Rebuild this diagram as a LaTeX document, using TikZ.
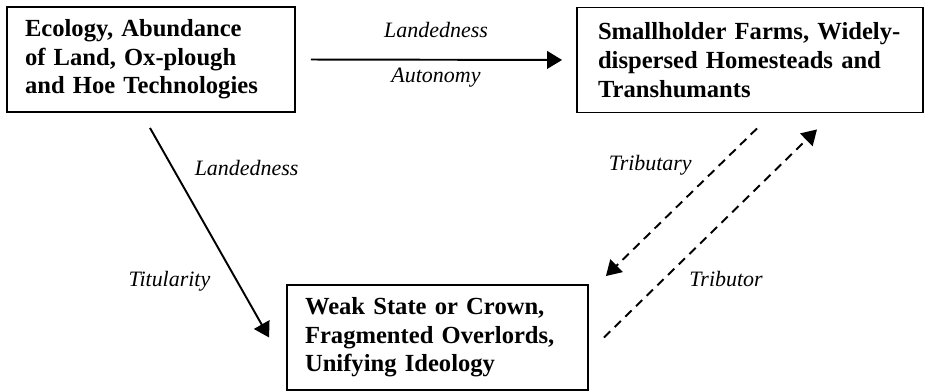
\documentclass[tikz,border=0pt]{standalone}
\usepackage{fontspec}
\setmainfont{Liberation Serif}
\usetikzlibrary{arrows.meta}

\tikzset{
  factor/.style={rectangle, draw, line width=1.1pt, minimum height=2.1cm,
    align=left, font=\bfseries\fontsize{14}{16.3}\selectfont},
  link/.style={line width=1.1pt, -{Triangle[length=8.5pt,width=10pt]}},
  tribute/.style={link, dash pattern=on 5pt off 3.5pt},
  tag/.style={font=\itshape\fontsize{12.5}{14}\selectfont}
}

\begin{document}
\begin{tikzpicture}[x=0.02cm, y=-0.02cm]
    \useasboundingbox (0,0) rectangle (927,391);
    % Nodes
    \node [factor, minimum width=5.76cm, text width=5.04cm] (ecology) at (151,59.5)
        {Ecology, Abundance\\of Land, Ox-plough\\and Hoe Technologies};
    \node [factor, minimum width=6.92cm, text width=6.08cm] (farms) at (750,60)
        {Smallholder Farms, Widely-\\dispersed Homesteads and\\Transhumants};
    \node [factor, minimum width=6.02cm, text width=5.3cm] (state) at (437.5,337.5)
        {Weak State or Crown,\\Fragmented Overlords,\\Unifying Ideology};

    % Path
    \draw [link, shorten <=0.3cm, shorten >=0.28cm] (ecology.east) -- (farms.west)
        node [tag, midway, yshift=0.6cm] {Landedness}
        node [tag, midway, yshift=-0.36cm] {Autonomy};
    \draw [link] ([xshift=-0.02cm, yshift=-0.3cm]ecology.south) -- ([xshift=-0.34cm]state.west)
        node [tag, pos=0.19, xshift=1.48cm] {Landedness}
        node [tag, pos=0.73, xshift=-1.35cm] {Titularity};
    \draw [tribute] ([xshift=0.14cm, yshift=-0.3cm]farms.south) -- ([xshift=0.34cm, yshift=0.16cm]state.north east)
        node [tag, pos=0.25, xshift=-1.38cm] {Tributary};
    \draw [tribute] ([xshift=0.3cm]state.east) -- ([xshift=1.34cm, yshift=-0.32cm]farms.south)
        node [tag, pos=0.28, xshift=1.25cm] {Tributor};
\end{tikzpicture}
\end{document}
